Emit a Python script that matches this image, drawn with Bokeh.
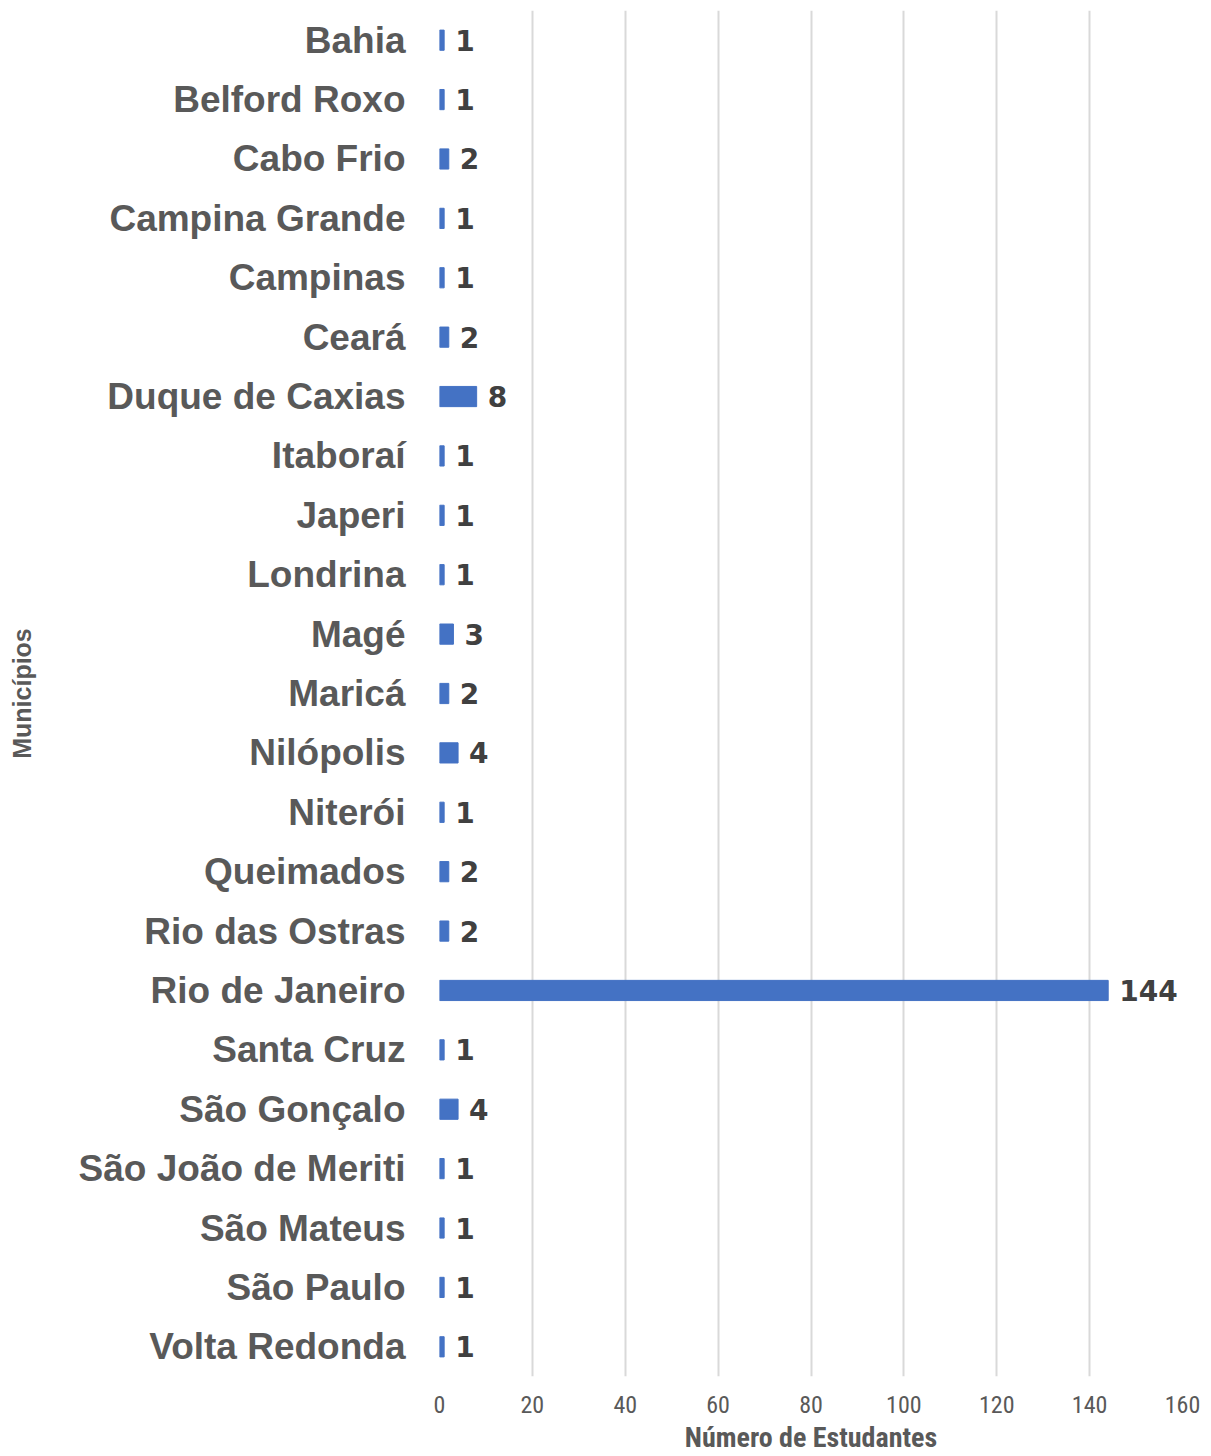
from bokeh.plotting import figure
from bokeh.models import Range1d, FactorRange, ColumnDataSource, FixedTicker
from bokeh.core.properties import value
from bokeh.embed import file_html
from bokeh.resources import INLINE

municipios = ["Bahia", "Belford Roxo", "Cabo Frio", "Campina Grande", "Campinas", "Ceará",
              "Duque de Caxias", "Itaboraí", "Japeri", "Londrina", "Magé", "Maricá",
              "Nilópolis", "Niterói", "Queimados", "Rio das Ostras", "Rio de Janeiro",
              "Santa Cruz", "São Gonçalo", "São João de Meriti", "São Mateus", "São Paulo",
              "Volta Redonda"]
estudantes = [1, 1, 2, 1, 1, 2, 8, 1, 1, 1, 3, 2, 4, 1, 2, 2, 144, 1, 4, 1, 1, 1, 1]
x_ticks = [0, 20, 40, 60, 80, 100, 120, 140, 160]

src = ColumnDataSource(dict(cat=municipios, val=estudantes,
                            lbl=[str(v) for v in estudantes]))

p = figure(width=1211, height=1456, output_backend="svg", toolbar_location=None,
           y_range=FactorRange(factors=list(reversed(municipios))),
           x_range=Range1d(0, 160),
           min_border_left=439, min_border_top=10, min_border_right=29, min_border_bottom=80)

p.hbar(y="cat", right="val", left=0, height=0.34, source=src, color="#4472C4")
p.text(x="val", y="cat", text="lbl", source=src, x_offset=11, text_baseline="middle",
       text_align="left", text_font=value("DejaVu Sans"), text_font_style="bold",
       text_font_size="28px", text_color="#404040")

p.outline_line_color = None
p.ygrid.grid_line_color = None
p.xgrid.grid_line_color = "#D9D9D9"
p.xgrid.grid_line_width = 2
p.xaxis.ticker = FixedTicker(ticks=x_ticks)

p.xaxis.axis_line_color = None
p.xaxis.major_tick_line_color = None
p.xaxis.minor_tick_line_color = None
p.xaxis.major_tick_out = 0
p.xaxis.major_label_standoff = 19
p.xaxis.major_label_text_font = "Liberation Sans Narrow, Roboto Condensed, Liberation Sans"
p.xaxis.major_label_text_font_size = "24px"
p.xaxis.major_label_text_color = "#595959"
p.xaxis.axis_label = "Número de Estudantes"
p.xaxis.axis_label_text_font = "Liberation Sans Narrow, Roboto Condensed, Liberation Sans"
p.xaxis.axis_label_text_font_style = "bold"
p.xaxis.axis_label_text_font_size = "28px"
p.xaxis.axis_label_text_color = "#595959"
p.xaxis.axis_label_standoff = 5

p.yaxis.axis_line_color = None
p.yaxis.major_tick_line_color = None
p.yaxis.minor_tick_line_color = None
p.yaxis.major_tick_out = 0
p.yaxis.major_label_standoff = 34
p.yaxis.major_label_text_font = "Liberation Sans"
p.yaxis.major_label_text_font_style = "bold"
p.yaxis.major_label_text_font_size = "37px"
p.yaxis.major_label_text_color = "#595959"
p.yaxis.axis_label = "Municípios"
p.yaxis.axis_label_text_font = "Liberation Sans"
p.yaxis.axis_label_text_font_style = "bold"
p.yaxis.axis_label_text_font_size = "25px"
p.yaxis.axis_label_text_color = "#595959"
p.yaxis.axis_label_standoff = 40

open("out.html", "w").write(file_html(p, INLINE))
